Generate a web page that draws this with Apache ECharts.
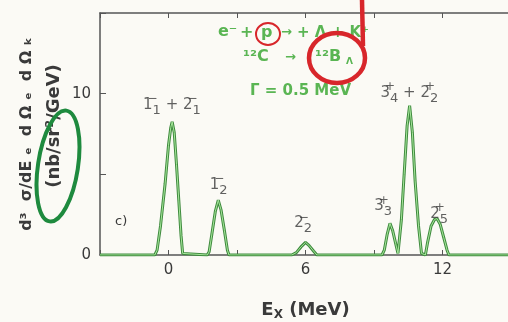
<!DOCTYPE html>
<html>
<head>
<meta charset="utf-8">
<script src="https://cdn.jsdelivr.net/npm/echarts@6/dist/echarts.min.js"></script>
<style>
  html, body { margin: 0; padding: 0; background: #fbfaf5; }
  #chart { width: 508px; height: 322px; }
</style>
</head>
<body>
<div id="chart"></div>
<script>
// excitation energy (MeV) and cross section
const curveE = [-3, -0.6, -0.5, -0.35, -0.15, 0.0, 0.1, 0.16, 0.25, 0.35, 0.45, 0.55, 0.62, 0.68,
  1.7, 1.78, 1.9, 2.05, 2.18, 2.3, 2.45, 2.58, 2.65,
  5.4, 5.6, 5.8, 6.0, 6.15, 6.35, 6.5,
  9.35, 9.45, 9.58, 9.7, 9.82, 9.95, 10.05, 10.1, 10.2, 10.32, 10.45, 10.56, 10.68, 10.8, 10.95, 11.08, 11.15,
  11.25, 11.35, 11.5, 11.65, 11.76, 11.9, 12.05, 12.2, 12.28, 15];
const curveV = [0, 0, 0.3, 1.8, 4.4, 6.8, 7.9, 8.25, 7.6, 5.6, 3.4, 1.2, 0.1, 0,
  0, 0.2, 1.3, 2.7, 3.4, 2.8, 1.5, 0.3, 0,
  0, 0.15, 0.5, 0.78, 0.6, 0.25, 0,
  0, 0.3, 1.3, 1.96, 1.5, 0.7, 0.1, 0.05, 2.2, 5.0, 8.0, 9.26, 7.6, 4.6, 1.8, 0.1, 0,
  0, 0.8, 1.8, 2.2, 2.26, 1.9, 1.1, 0.3, 0, 0];

// state labels and where they sit (data coords)
const stateLabels = ['{n|1}{sp|−}{sb|1}{n| + 2}{sp|−}{sb|1}', '{n|1}{sp|−}{sb|2}', '{n|2}{sp|−}{sb|2}',
  '{n|3}{sp|+}{sb|3}', '{n|3}{sp|+}{sb|4}{n| + 2}{sp|+}{sb|2}', '{n|2}{sp|+}{sb|5}'];
const stateLabelE = [0.15, 2.2, 5.9, 9.4, 10.55, 11.85];
const stateLabelV = [9.3, 4.35, 1.95, 3.0, 10.05, 2.55];

const xTickLabels = [0, 6, 12];
const yTickLabels = [0, 10];

const chart = echarts.init(document.getElementById('chart'));
const curve = curveE.map((e, i) => [e, curveV[i]]);
const labelPts = stateLabelE.map((e, i) => ({ value: [e, stateLabelV[i]], name: stateLabels[i] }));

const axisCol = '#555';
const txt = '#3a3a3a';
const green = '#5ab553';
const red = '#d8262b';
const font = '"DejaVu Sans", Verdana, sans-serif';

function gtext(x, y, text, size, color) {
  return { type: 'text', x: x, y: y, style: { text: text, font: 'bold ' + size + 'px ' + font, fill: color, verticalAlign: 'middle' } };
}

chart.setOption({
  backgroundColor: '#fbfaf5',
  animation: false,
  grid: { left: 100, top: 13, right: -3, bottom: 67, outerBoundsMode: 'none' },
  xAxis: [{
    type: 'value', min: -3, max: 15, interval: 3, position: 'bottom',
    axisLine: { lineStyle: { color: axisCol, width: 1.5 } },
    axisTick: { inside: true, length: 5, lineStyle: { color: axisCol } },
    splitLine: { show: false },
    axisLabel: {
      margin: 8, color: txt, fontSize: 15, fontFamily: font,
      formatter: v => xTickLabels.includes(v) ? String(v) : ''
    },
    name: '{b|E}{s|X}{b| (MeV)}', nameLocation: 'middle', nameGap: 45,
    nameTextStyle: {
      rich: {
        b: { fontSize: 18, fontWeight: 'bold', color: txt, fontFamily: font },
        s: { fontSize: 12, fontWeight: 'bold', color: txt, fontFamily: font, padding: [9, 0, 0, 0] }
      }
    }
  }, {
    type: 'value', min: -3, max: 15, interval: 3, position: 'top',
    axisLine: { lineStyle: { color: axisCol, width: 1.5 } },
    axisTick: { inside: true, length: 5, lineStyle: { color: axisCol } },
    axisLabel: { show: false },
    splitLine: { show: false }
  }],
  yAxis: {
    type: 'value', min: 0, max: 15, interval: 5,
    axisLine: { show: true, onZero: false, lineStyle: { color: axisCol, width: 1.5 } },
    axisTick: { show: true, inside: true, length: 6, lineStyle: { color: axisCol } },
    splitLine: { show: false },
    axisLabel: {
      margin: 9, color: txt, fontSize: 15, fontFamily: font,
      formatter: v => yTickLabels.includes(v) ? String(v) : ''
    }
  },
  series: [{
    type: 'line', data: curve, showSymbol: false, z: 3,
    lineStyle: { color: '#3f8a3e', width: 3 }
  }, {
    type: 'line', data: curve, showSymbol: false, z: 4,
    lineStyle: { color: '#a6e69b', width: 1 }
  }, {
    type: 'scatter', data: labelPts, symbolSize: 0, z: 5,
    label: {
      show: true, position: 'inside', formatter: p => p.name,
      rich: {
        n: { fontSize: 15, color: txt, fontFamily: font, lineHeight: 24 },
        sp: { fontSize: 12, color: txt, fontFamily: font, lineHeight: 12, verticalAlign: 'top', width: 0 },
        sb: { fontSize: 13, color: txt, fontFamily: font, lineHeight: 13, verticalAlign: 'bottom' }
      }
    }
  }],
  graphic: [
    { type: 'text', x: 115, y: 222, style: { text: 'c)', font: '13px ' + font, fill: txt, verticalAlign: 'middle' } },
    {
      type: 'text', x: 27, y: 134, rotation: Math.PI / 2,
      style: { text: 'd³  σ/dE ₑ  d Ω ₑ  d Ω ₖ', font: 'bold 16px ' + font, fill: txt, align: 'center', verticalAlign: 'middle' }
    },
    {
      type: 'text', x: 54, y: 126, rotation: Math.PI / 2,
      style: { text: '(nb/sr²/GeV)', font: 'bold 18px ' + font, fill: txt, align: 'center', verticalAlign: 'middle' }
    },
    gtext(218, 32, 'e⁻', 16, green),
    gtext(240, 33, '+', 16, green),
    gtext(261, 33, 'p', 16, green),
    gtext(281, 33, '→', 13, green),
    gtext(297, 33, '+ Λ + K⁺', 15, green),
    gtext(243, 57, '¹²C', 16, green),
    gtext(285, 58, '→', 13, green),
    gtext(315, 57, '¹²B', 16, green),
    gtext(346, 62, 'Λ', 9, green),
    gtext(250, 91, 'Γ = 0.5 MeV', 15, green),
    // hand-drawn marks on top of the scan
    { type: 'ellipse', shape: { cx: 268, cy: 34, rx: 12, ry: 11 }, style: { fill: 'none', stroke: red, lineWidth: 2 }, z: 10 },
    { type: 'ellipse', shape: { cx: 337, cy: 58, rx: 28, ry: 25 }, style: { fill: 'none', stroke: red, lineWidth: 4.5 }, z: 10 },
    { type: 'line', shape: { x1: 362, y1: 0, x2: 363, y2: 46 }, style: { stroke: red, lineWidth: 4.5 }, z: 10 },
    {
      type: 'ellipse', shape: { cx: 0, cy: 0, rx: 20, ry: 56 }, x: 58, y: 166, rotation: -0.15,
      style: { fill: 'none', stroke: '#1e8a3e', lineWidth: 4 }, z: 10
    }
  ]
});
</script>
</body>
</html>
